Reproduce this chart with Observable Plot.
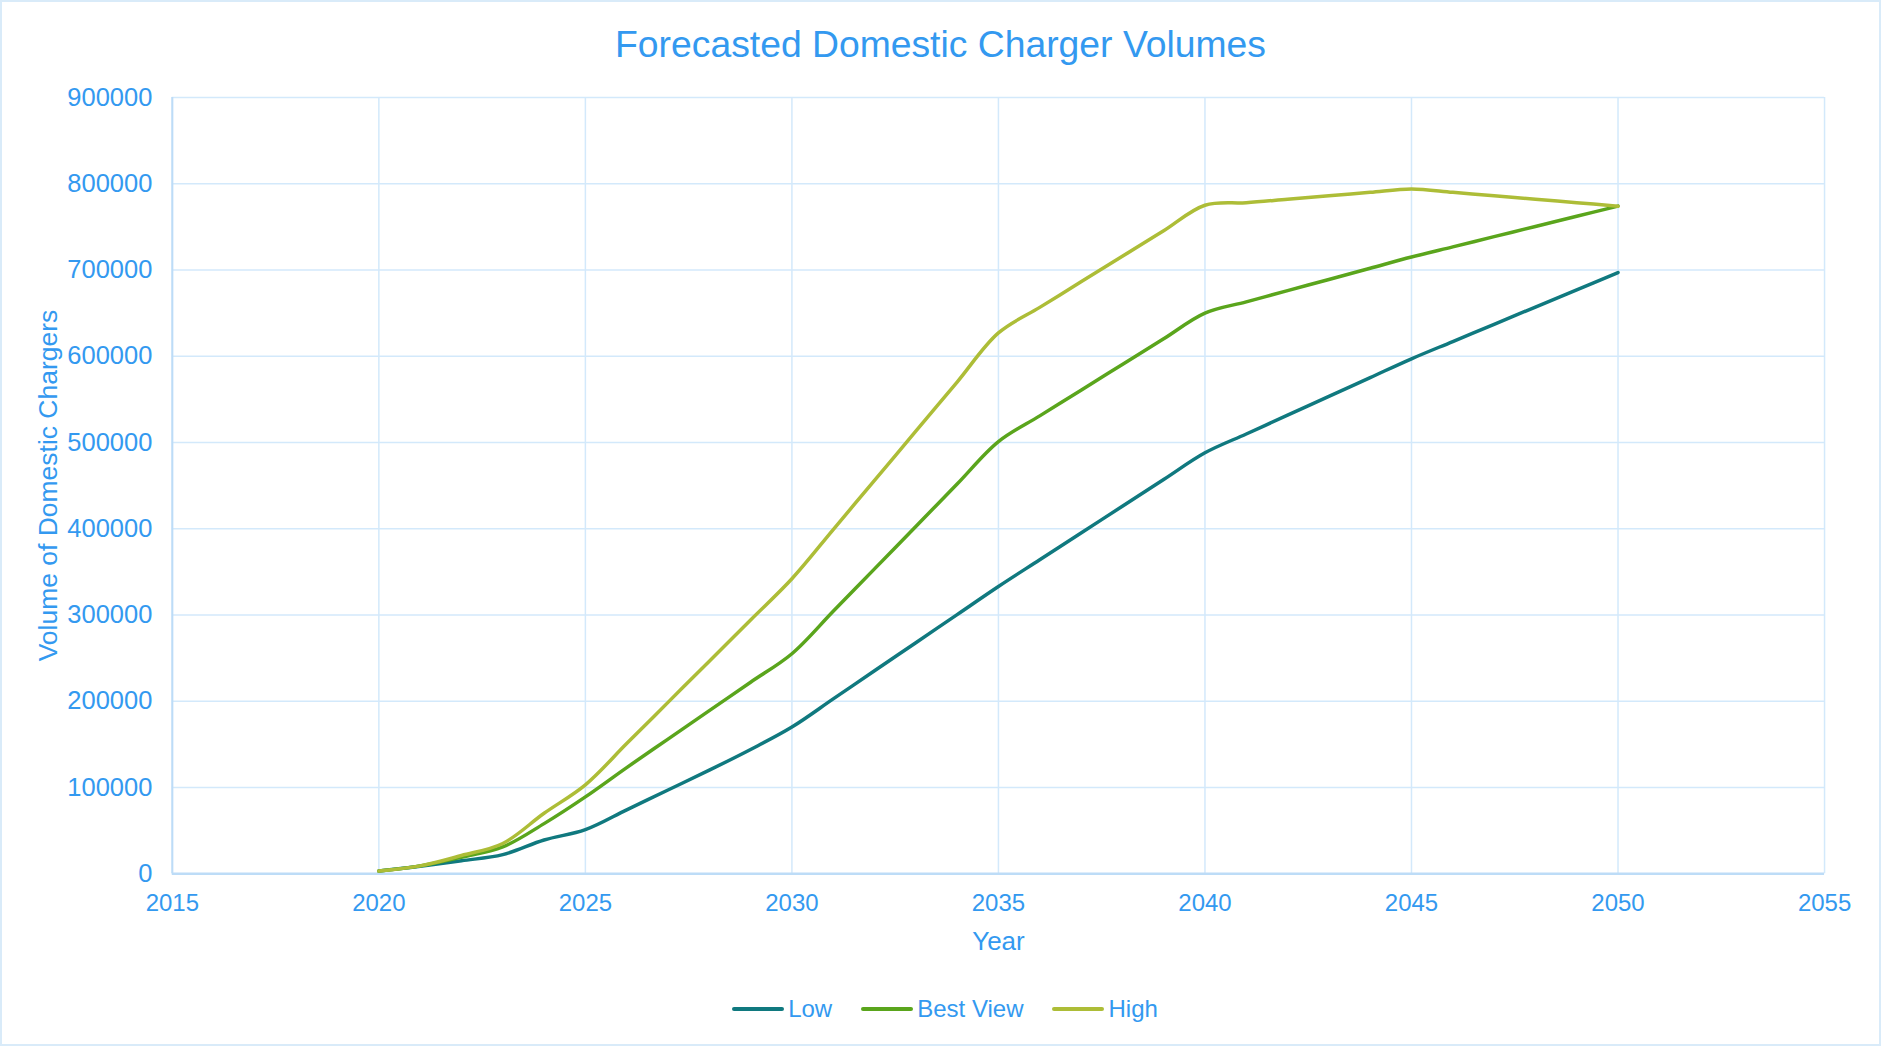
<!DOCTYPE html>
<html>
<head>
<meta charset="utf-8">
<script src="https://cdn.jsdelivr.net/npm/d3@7"></script>
<script src="https://cdn.jsdelivr.net/npm/@observablehq/plot@0.6"></script>
<style>
  html, body { margin: 0; padding: 0; background: #fff; }
  body { font-family: "Liberation Sans", Arial, sans-serif; }
  #wrap { position: relative; width: 1881px; height: 1046px; box-sizing: border-box; border: 2px solid #d9ebf9; overflow: hidden; }
  #title { position: absolute; left: 0; width: 100%; top: 21px; text-align: center; font-size: 37.3px; color: #3399f0; line-height: 42px; }
  #chart { position: absolute; left: -4px; top: 76px; }
  #legend { position: absolute; left: 0; width: 100%; top: 993px; display: flex; justify-content: center; align-items: center; font-size: 24px; color: #3399f0; padding-left: 8px; box-sizing: border-box; }
  .item { display: flex; align-items: center; margin: 0 14px; }
  .item svg { margin-right: 3px; }
</style>
</head>
<body>
<div id="wrap">
  <div id="title">Forecasted Domestic Charger Volumes</div>
  <div id="chart"></div>
  <div id="legend"></div>
</div>
<script>
const years = [2020,2021,2022,2023,2024,2025,2026,2027,2028,2029,2030,2031,2032,2033,2034,2035,2036,2037,2038,2039,2040,2041,2042,2043,2044,2045,2046,2047,2048,2049,2050];
const low = [3000,8500,15000,22000,39000,51000,74000,97000,120000,144000,170000,202600,235200,267800,300400,333000,364000,395000,426000,457000,488000,509800,531600,553400,575200,597000,617000,637000,657000,677000,697000];
const bestView = [3000,9000,19000,31000,58000,89000,123000,156000,189000,222000,255000,304200,353400,402600,451800,501000,530800,560600,590400,620200,650000,663000,676000,689000,702000,715000,726800,738600,750400,762200,774000];
const high = [3000,9000,21000,35000,70000,103000,150800,198600,246400,294200,342000,399000,456000,513000,570000,627000,656600,686200,715800,745400,775000,778000,782000,786000,790000,794000,790000,786000,782000,778000,774000];

const seriesNames = ["Low", "Best View", "High"];
const seriesColors = ["#10797f", "#5aa51c", "#adbd37"];
const xTicks = [2015,2020,2025,2030,2035,2040,2045,2050,2055];
const yTicks = [0,100000,200000,300000,400000,500000,600000,700000,800000,900000];

const textColor = "#3399f0";
const gridColor = "#d3e9fb";
const axisColor = "#bddcf7";

const rows = [];
[low, bestView, high].forEach((vals, i) => {
  years.forEach((yr, j) => rows.push({ year: yr, value: vals[j], series: seriesNames[i] }));
});

const chart = Plot.plot({
  width: 1883,
  height: 884,
  marginLeft: 174,
  marginRight: 55,
  marginTop: 19,
  marginBottom: 88,
  style: { fontFamily: "'Liberation Sans', Arial, sans-serif", fontSize: "24px", color: textColor, background: "transparent", overflow: "visible" },
  x: { domain: [2015, 2055], label: null },
  y: { domain: [0, 900000], label: null },
  color: { domain: seriesNames, range: seriesColors },
  marks: [
    Plot.gridX(xTicks, { stroke: gridColor, strokeOpacity: 1, strokeWidth: 1.5 }),
    Plot.gridY(yTicks, { stroke: gridColor, strokeOpacity: 1, strokeWidth: 1.5 }),
    Plot.ruleY([0], { stroke: axisColor, strokeWidth: 2.5 }),
    Plot.ruleX([2015], { stroke: axisColor, strokeWidth: 2 }),
    Plot.axisX(xTicks, { tickSize: 0, tickPadding: 20, tickFormat: d => String(d), label: null, fill: textColor, fontSize: 24 }),
    Plot.axisY(yTicks, { tickSize: 0, tickPadding: 20, tickFormat: d => String(d), label: null, fill: textColor, fontSize: 25.5 }),
    Plot.line(rows, { x: "year", y: "value", stroke: "series", z: "series", strokeWidth: 3.5, curve: "catmull-rom" }),
    Plot.text(["Year"], { frameAnchor: "bottom", dy: 76, fill: textColor, fontSize: 26 }),
    Plot.text(["Volume of Domestic Chargers"], { frameAnchor: "left", dx: -124, rotate: -90, textAnchor: "middle", fill: textColor, fontSize: 26.5 })
  ]
});
document.getElementById("chart").appendChild(chart);

const legend = document.getElementById("legend");
seriesNames.forEach((name, i) => {
  const item = document.createElement("div");
  item.className = "item";
  item.innerHTML = `<svg width="54" height="10"><line x1="3" y1="5" x2="51" y2="5" stroke="${seriesColors[i]}" stroke-width="4" stroke-linecap="round"/></svg><span>${name}</span>`;
  legend.appendChild(item);
});
</script>
</body>
</html>
